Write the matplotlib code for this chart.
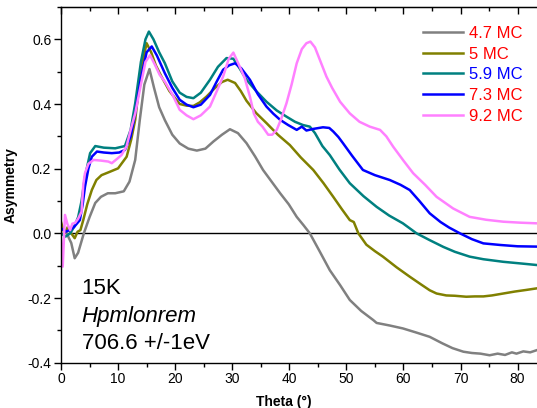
import matplotlib
matplotlib.use("Agg")
import matplotlib.pyplot as plt
from matplotlib.ticker import MultipleLocator

# Values (theta in degrees, asymmetry)
theta_47 = [1.0, 1.8, 2.4, 3.0, 3.5, 4.0, 5.0, 6.0, 7.0, 8.2, 9.5, 11.0, 12.0, 13.0, 13.8, 14.6, 15.5, 16.3,
            17.2, 18.2, 19.5, 20.8, 22.3, 23.8, 25.3, 26.7, 28.2, 29.6, 31.0, 32.5, 34.0, 35.4, 36.9, 38.4,
            39.9, 41.3, 42.5, 43.6, 45.3, 47.1, 48.9, 50.6, 52.6, 54.7, 55.3, 57.6, 59.9, 62.3, 64.6, 66.8,
            68.6, 70.5, 72.0, 73.5, 75.1, 76.5, 77.8, 79.0, 79.8, 81.0, 82.2, 83.4]
asym_47 = [0.0, -0.03, -0.077, -0.06, -0.03, 0.0, 0.05, 0.094, 0.113, 0.124, 0.124, 0.13, 0.16, 0.227, 0.35,
           0.46, 0.508, 0.45, 0.39, 0.35, 0.305, 0.278, 0.262, 0.256, 0.262, 0.284, 0.305, 0.322, 0.31, 0.279,
           0.238, 0.196, 0.16, 0.124, 0.09, 0.051, 0.025, 0.0, -0.055, -0.114, -0.16, -0.206, -0.24, -0.268,
           -0.277, -0.285, -0.294, -0.307, -0.32, -0.34, -0.355, -0.366, -0.37, -0.372, -0.377, -0.372,
           -0.376, -0.368, -0.372, -0.365, -0.368, -0.361]

theta_5 = [0.0, 0.6, 1.2, 1.8, 2.4, 2.9, 3.4, 3.9, 4.6, 5.4, 6.2, 7.1, 8.5, 10.0, 11.5, 12.3, 13.0, 14.0, 15.0,
           15.8, 16.6, 17.6, 19.0, 20.8, 22.0, 23.2, 24.3, 25.5, 27.0, 28.2, 29.2, 30.5, 31.5, 32.5, 34.2,
           36.0, 38.0, 40.1, 42.0, 44.2, 46.0, 47.7, 49.2, 50.6, 51.3, 52.1, 53.5, 55.0, 56.4, 58.8, 61.1,
           63.0, 64.6, 65.8, 67.5, 69.0, 71.0, 72.5, 74.0, 75.5, 77.5, 79.5, 81.5, 83.4]
asym_5 = [0.035, 0.0, 0.02, 0.0, -0.015, 0.005, 0.01, 0.041, 0.09, 0.134, 0.165, 0.18, 0.19, 0.201, 0.237,
          0.29, 0.351, 0.505, 0.588, 0.56, 0.52, 0.485, 0.44, 0.400, 0.395, 0.394, 0.405, 0.423, 0.45, 0.468,
          0.475, 0.465, 0.44, 0.41, 0.372, 0.341, 0.305, 0.273, 0.235, 0.196, 0.155, 0.113, 0.075, 0.041,
          0.035, 0.0, -0.035, -0.055, -0.072, -0.105, -0.134, -0.157, -0.176, -0.186, -0.192, -0.193,
          -0.196, -0.195, -0.195, -0.192, -0.186, -0.18, -0.175, -0.170]

theta_59 = [0.0, 0.8, 1.6, 2.3, 3.0, 3.6, 4.2, 5.1, 6.0, 7.5, 9.5, 11.2, 12.2, 13.0, 14.0, 14.8, 15.4, 16.2,
            17.2, 18.2, 19.5, 20.8, 22.0, 23.2, 24.5, 26.1, 27.5, 29.0, 30.2, 31.3, 32.5, 34.2, 36.0, 37.8,
            39.5, 41.0, 42.4, 43.6, 44.5, 45.8, 47.1, 48.8, 50.6, 53.0, 55.3, 57.5, 59.9, 62.3, 64.6, 67.0,
            69.0, 71.6, 74.0, 77.5, 80.5, 83.4]
asym_59 = [0.0, -0.01, 0.0, 0.02, 0.05, 0.1, 0.175, 0.248, 0.27, 0.265, 0.263, 0.27, 0.32, 0.402, 0.53, 0.60,
           0.624, 0.60, 0.56, 0.526, 0.47, 0.435, 0.422, 0.418, 0.435, 0.475, 0.515, 0.542, 0.54, 0.51, 0.475,
           0.44, 0.407, 0.38, 0.361, 0.345, 0.335, 0.330, 0.31, 0.27, 0.242, 0.197, 0.155, 0.115, 0.082,
           0.055, 0.031, 0.0, -0.021, -0.042, -0.057, -0.072, -0.08, -0.088, -0.093, -0.098]

theta_73 = [0.0, 0.8, 1.5, 2.3, 3.3, 3.8, 4.2, 4.8, 5.4, 6.3, 7.5, 8.9, 10.2, 11.2, 12.2, 13.0, 14.0, 15.0,
            15.9, 16.8, 18.2, 19.5, 20.8, 22.0, 23.2, 24.5, 26.1, 27.3, 28.4, 29.5, 30.5, 31.6, 33.1, 34.5,
            36.0, 37.2, 38.4, 39.8, 41.3, 42.2, 43.0, 44.2, 45.9, 47.0, 47.7, 48.6, 49.4, 51.0, 52.9, 55.0,
            57.6, 59.5, 61.1, 62.8, 64.6, 66.5, 68.0, 69.9, 72.0, 74.0, 77.0, 80.0, 83.4]
asym_73 = [0.016, 0.005, 0.01, 0.02, 0.041, 0.09, 0.144, 0.2, 0.237, 0.253, 0.25, 0.248, 0.25, 0.258, 0.3,
           0.371, 0.48, 0.56, 0.578, 0.55, 0.495, 0.45, 0.413, 0.398, 0.39, 0.398, 0.428, 0.47, 0.506, 0.52,
           0.526, 0.51, 0.475, 0.43, 0.392, 0.37, 0.351, 0.335, 0.320, 0.33, 0.318, 0.323, 0.328, 0.326,
           0.315, 0.298, 0.279, 0.24, 0.196, 0.18, 0.165, 0.15, 0.134, 0.1, 0.062, 0.035, 0.018, 0.0, -0.018,
           -0.031, -0.036, -0.04, -0.041]

theta_92 = [0.0, 0.3, 0.7, 1.1, 1.6, 2.0, 2.45, 3.0, 3.6, 3.9, 4.2, 4.8, 5.7, 7.0, 8.3, 8.9, 9.8, 10.6, 11.5,
            12.2, 13.0, 14.0, 14.8, 15.6, 16.5, 17.3, 18.2, 19.5, 20.8, 22.0, 23.2, 24.5, 26.1, 27.3, 28.4,
            29.4, 30.2, 31.3, 32.2, 33.1, 33.8, 34.5, 35.3, 36.3, 37.0, 37.8, 38.6, 39.5, 40.4, 41.3, 42.2,
            43.0, 43.7, 44.5, 45.5, 46.5, 47.5, 48.9, 50.6, 52.3, 54.1, 55.9, 57.0, 58.2, 60.0, 61.7, 63.8,
            65.8, 68.7, 71.6, 74.5, 77.5, 80.5, 83.4]
asym_92 = [-0.02, -0.103, 0.057, 0.03, 0.01, 0.03, 0.032, 0.045, 0.067, 0.15, 0.186, 0.215, 0.227, 0.225,
           0.222, 0.217, 0.23, 0.242, 0.27, 0.32, 0.371, 0.46, 0.53, 0.551, 0.52, 0.49, 0.469, 0.43, 0.382,
           0.365, 0.353, 0.365, 0.392, 0.44, 0.485, 0.54, 0.559, 0.516, 0.48, 0.423, 0.37, 0.345, 0.33,
           0.305, 0.305, 0.320, 0.355, 0.402, 0.46, 0.526, 0.57, 0.588, 0.593, 0.575, 0.53, 0.485, 0.45,
           0.407, 0.371, 0.345, 0.330, 0.320, 0.30, 0.268, 0.225, 0.186, 0.15, 0.113, 0.077, 0.051, 0.042,
           0.036, 0.033, 0.031]

labels = ["4.7 MC", "5 MC", "5.9 MC", "7.3 MC", "9.2 MC"]
line_colors = ["#808080", "#808000", "#008080", "#0000FF", "#FF80FF"]
label_colors = ["#FF0000", "#FF0000", "#0000FF", "#FF0000", "#FF0000"]

plt.rcParams["font.family"] = ["Liberation Sans", "DejaVu Sans"]
plt.rcParams["axes.unicode_minus"] = False

fig = plt.figure(figsize=(5.37, 4.08), dpi=100)
ax = fig.add_axes([61 / 537, 45.3 / 408, 476 / 537, 355.7 / 408])

series = [(theta_47, asym_47), (theta_5, asym_5), (theta_59, asym_59), (theta_73, asym_73), (theta_92, asym_92)]
for (t, a), lab, col in zip(series, labels, line_colors):
    ax.plot(t, a, color=col, lw=1.8, label=lab)

ax.axhline(0, color="black", lw=1.0, zorder=0)

ax.set_xlim(0, 83.4)
ax.set_ylim(-0.4, 0.7)
ax.xaxis.set_major_locator(MultipleLocator(10))
ax.xaxis.set_minor_locator(MultipleLocator(5))
ax.yaxis.set_minor_locator(MultipleLocator(0.1))
ax.set_yticks([-0.4, -0.2, 0.0, 0.2, 0.4, 0.6])
ax.set_yticklabels(["-0.4", "-0.2", "0.0", "0.2", "0.4", "0.6"])
ax.tick_params(which="major", direction="out", length=5, width=1, labelsize=10, pad=2)
ax.tick_params(which="minor", direction="out", length=3, width=1)
ax.spines["right"].set_visible(False)
for s in ["left", "bottom", "top"]:
    ax.spines[s].set_linewidth(1.0)

# top axis: ticks pointing inwards, no labels
top = ax.secondary_xaxis("top")
top.xaxis.set_major_locator(MultipleLocator(10))
top.xaxis.set_minor_locator(MultipleLocator(5))
top.tick_params(which="major", direction="in", length=5, width=1, labeltop=False)
top.tick_params(which="minor", direction="in", length=3, width=1)

ax.set_xlabel("Theta (°)", fontsize=10, fontweight="bold")
ax.set_ylabel("Asymmetry", fontsize=10, fontweight="bold")
ax.xaxis.set_label_coords((283.5 - 61) / 476, -0.09)
ax.yaxis.set_label_coords(-0.092, 0.5)

leg = ax.legend(loc="upper left", bbox_to_anchor=(423 / 537, 1 - 26 / 408),
                bbox_transform=fig.transFigure, frameon=False, fontsize=12,
                handlelength=2.4, handletextpad=0.35, labelspacing=0.34,
                borderpad=0, borderaxespad=0)
for txt, c in zip(leg.get_texts(), label_colors):
    txt.set_color(c)

ax.text(3.6, -0.188, "15K", fontsize=16)
ax.text(3.6, -0.273, "Hpmlonrem", fontsize=16, style="italic")
ax.text(3.6, -0.358, "706.6 +/-1eV", fontsize=16)

fig.savefig("out.png", dpi=100)
